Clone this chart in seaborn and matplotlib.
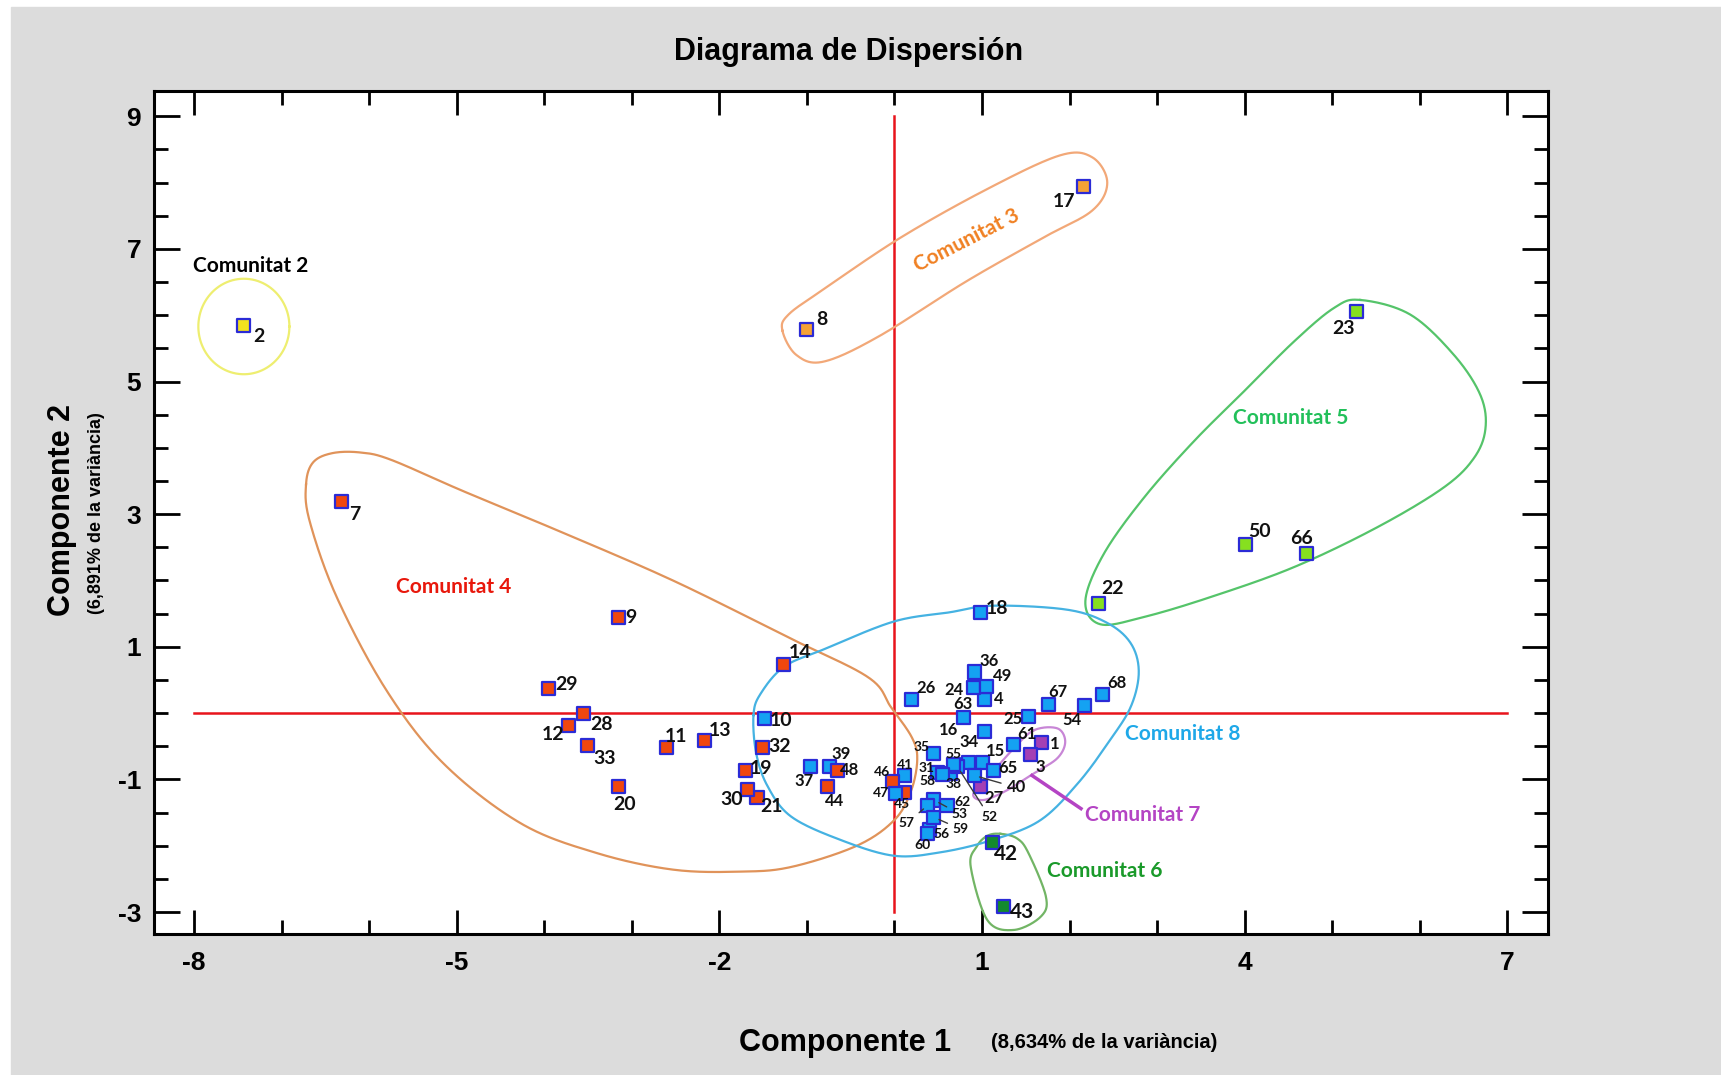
import numpy as np
import pandas as pd
import seaborn as sns
import matplotlib.pyplot as plt
from matplotlib.patches import Rectangle
from matplotlib.ticker import MultipleLocator

plt.rcParams['axes.unicode_minus'] = False

# point ids, PCA scores and community of each point
ids = [1, 2, 3, 4, 7, 8, 9, 10, 11, 12, 13, 14, 15, 16, 17, 18, 19, 20,
       21, 22, 23, 24, 25, 26, 27, 28, 29, 30, 31, 32, 33, 34, 35, 36, 37,
       38, 39, 40, 41, 42, 43, 44, 45, 46, 47, 48, 49, 50, 52, 53, 54, 55,
       56, 57, 58, 59, 60, 61, 62, 63, 65, 66, 67, 68]
comp1 = [1.68, -7.43, 1.55, 1.03, -6.32, -1.00, -3.15, -1.48, -2.60, -3.72,
         -2.17, -1.27, 1.00, 1.03, 2.16, 0.98, -1.70, -3.15, -1.57, 2.33,
         5.28, 0.90, 1.53, 0.20, 0.98, -3.55, -3.95, -1.68, 0.49, -1.51,
         -3.51, 0.85, 0.45, 0.91, -0.96, 0.64, -0.74, 0.91, 0.12, 1.12,
         1.24, -0.76, 0.12, -0.02, 0.01, -0.65, 1.05, 4.01, 0.72, 0.45,
         2.17, 0.67, 0.40, 0.38, 0.55, 0.45, 0.38, 1.36, 0.60, 0.79, 1.13,
         4.71, 1.76, 2.38]
comp2 = [-0.45, 5.85, -0.63, 0.20, 3.19, 5.78, 1.44, -0.08, -0.52, -0.19,
         -0.41, 0.73, -0.74, -0.28, 7.94, 1.52, -0.86, -1.10, -1.27, 1.65,
         6.06, 0.38, -0.05, 0.20, -1.11, -0.01, 0.37, -1.15, -0.89, -0.52,
         -0.49, -0.74, -0.61, 0.62, -0.80, -0.91, -0.80, -0.94, -0.94, -1.95,
         -2.91, -1.11, -1.19, -1.03, -1.21, -0.87, 0.40, 2.54, -0.81, -1.31,
         0.12, -0.77, -1.75, -1.39, -0.93, -1.57, -1.82, -0.48, -1.39, -0.07,
         -0.86, 2.41, 0.13, 0.28]
community = [7, 2, 7, 8, 4, 3, 4, 8, 4, 4, 4, 4, 8, 8, 3, 8, 4, 4,
             4, 5, 5, 8, 8, 8, 7, 4, 4, 4, 8, 4, 4, 8, 8, 8, 8,
             8, 8, 8, 8, 6, 6, 4, 4, 4, 8, 4, 8, 5, 8, 8, 8, 8,
             8, 8, 8, 8, 8, 8, 8, 8, 8, 5, 8, 8]

# outlines drawn round each community (data units)
outlines = {
    3: [(-1.28, 5.77), (-1.12, 5.40), (-0.81, 5.30), (-0.18, 5.68), (0.82, 6.51),
        (1.70, 7.17), (2.26, 7.58), (2.43, 8.00), (2.26, 8.38), (1.89, 8.41),
        (1.07, 7.91), (0.07, 7.17), (-0.81, 6.39), (-1.21, 6.01)],
    4: [(-6.72, 3.45), (-6.64, 3.78), (-6.42, 3.92), (-6.10, 3.93), (-5.75, 3.82),
        (-4.93, 3.35), (-3.84, 2.75), (-2.53, 2.00), (-1.21, 1.14), (-0.30, 0.54),
        (-0.04, 0.09), (0.20, -0.37), (0.26, -0.70), (0.19, -1.17), (0.00, -1.61),
        (-0.43, -2.00), (-1.18, -2.32), (-1.76, -2.39), (-2.53, -2.36),
        (-3.40, -2.11), (-4.27, -1.66), (-5.15, -0.76), (-5.80, 0.34),
        (-6.37, 1.75), (-6.68, 2.90)],
    5: [(5.32, 6.23), (5.89, 6.01), (6.39, 5.40), (6.69, 4.80), (6.75, 4.30),
        (6.62, 3.85), (6.27, 3.40), (5.51, 2.80), (4.56, 2.20), (3.61, 1.75),
        (2.85, 1.45), (2.35, 1.34), (2.18, 1.69), (2.39, 2.40), (2.85, 3.25),
        (3.42, 4.10), (3.99, 4.85), (4.56, 5.60), (5.02, 6.11)],
    6: [(1.21, -1.82), (1.40, -1.89), (1.53, -2.11), (1.73, -2.77), (1.67, -3.07),
        (1.36, -3.27), (1.06, -3.12), (0.87, -2.31), (0.94, -2.01), (1.06, -1.85)],
    7: [(1.59, -0.26), (1.86, -0.23), (1.95, -0.43), (1.86, -0.68), (1.59, -0.91),
        (1.29, -1.16), (1.02, -1.31), (0.90, -1.22), (1.08, -0.95), (1.35, -0.55)],
    8: [(-1.61, -0.03), (-1.53, 0.29), (-1.26, 0.70), (-0.81, 0.96), (-0.01, 1.38),
        (0.63, 1.52), (1.13, 1.62), (1.97, 1.56), (2.43, 1.36), (2.70, 1.05),
        (2.79, 0.62), (2.70, 0.10), (2.46, -0.41), (2.10, -1.05), (1.66, -1.62),
        (1.10, -1.92), (0.52, -2.10), (-0.01, -2.15), (-0.62, -1.91),
        (-1.18, -1.56), (-1.45, -1.10), (-1.58, -0.60)],
}
outline_colors = {2: '#eeee70', 3: '#f2a878', 4: '#e0935a', 5: '#55c46a',
                  6: '#72b565', 7: '#c886d6', 8: '#45b2e2'}

palette = {2: '#f2e21e', 3: '#f5a236', 4: '#f0470e', 5: '#86e01f',
           6: '#138a2c', 7: '#a43fb4', 8: '#14a2f2'}

comm_labels = {2: ('Comunitat 2', -7.35, 6.74, 'black', 0),
               3: ('Comunitat 3', 0.82, 7.12, '#f08022', 27),
               4: ('Comunitat 4', -5.04, 1.90, '#e8180c', 0),
               5: ('Comunitat 5', 4.52, 4.45, '#22c05a', 0),
               6: ('Comunitat 6', 2.40, -2.38, '#1a9a2a', 0),
               7: ('Comunitat 7', 2.84, -1.53, '#b444c4', 0),
               8: ('Comunitat 8', 3.29, -0.31, '#1ea8e8', 0)}

# label offsets from the point, in pixels (x right, y up)
offsets = {2: (15, -11), 7: (14, -13), 8: (15, 10), 17: (-20, -15), 23: (-13, -17),
           50: (14, 13), 66: (-5, 15), 22: (14, 15), 18: (17, 4), 9: (12, 0),
           29: (18, 4), 14: (17, 12), 28: (18, -11), 12: (-16, -9), 33: (17, -13),
           20: (6, -18), 11: (9, 11), 13: (16, 10), 10: (16, -2), 32: (17, 1),
           19: (15, 2), 30: (-16, -10), 21: (15, -9), 37: (-6, -15), 39: (11, 12),
           48: (12, 1), 44: (7, -14), 46: (-11, 9), 41: (0, 10), 47: (-14, 0),
           45: (-3, -12), 35: (-12, 7), 31: (-11, 4), 58: (-15, -6), 55: (0, 10),
           38: (3, -11), 52: (32, -50), 34: (0, 20), 16: (-36, 2), 15: (13, 11),
           65: (14, 2), 40: (42, -12), 27: (14, -11), 3: (10, -12), 1: (13, -1),
           61: (13, 11), 25: (-15, -3), 54: (-13, -15), 67: (9, 12), 68: (14, 12),
           26: (14, 12), 24: (-19, -2), 36: (15, 11), 49: (16, 11), 4: (14, 1),
           63: (-1, 14), 62: (15, 3), 53: (26, -14), 59: (27, -12), 56: (12, -5),
           57: (-21, -18), 60: (-5, -11), 42: (13, -12), 43: (19, -6)}
leaders = [52, 40, 53, 59, 57]
small_ids = [46, 41, 47, 45, 35, 31, 58, 55, 38, 52, 62, 53, 59, 56, 57, 60]
medium_ids = [37, 39, 48, 44, 36, 49, 24, 63, 4, 26, 67, 68, 54, 25, 61, 1, 3,
              16, 34, 15, 65, 40, 27]

df = pd.DataFrame({'id': ids, 'comp1': comp1, 'comp2': comp2,
                   'community': community})


def closed_curve(pts, n=24):
    # periodic Catmull-Rom spline through the outline points
    P = np.asarray(pts, dtype=float)
    m = len(P)
    t = np.linspace(0, 1, n, endpoint=False)[:, None]
    segs = []
    for i in range(m):
        p0, p1, p2, p3 = P[i - 1], P[i], P[(i + 1) % m], P[(i + 2) % m]
        segs.append(0.5 * (2 * p1 + (-p0 + p2) * t
                           + (2 * p0 - 5 * p1 + 4 * p2 - p3) * t ** 2
                           + (-p0 + 3 * p1 - 3 * p2 + p3) * t ** 3))
    c = np.vstack(segs)
    return np.vstack([c, c[:1]])


narrow = ['Liberation Sans Narrow', 'Liberation Sans']
lab_font = ['Lato', 'DejaVu Sans']

fig, ax = plt.subplots(figsize=(17.21, 10.75), dpi=100)
fig.patch.set_facecolor('white')
fig.patches.append(Rectangle((11 / 1721, 0), 1, 1 - 7 / 1075,
                             transform=fig.transFigure, color='#dcdcdc', zorder=-10))
fig.subplots_adjust(left=0.0893, right=0.8993, bottom=0.1312, top=0.9153)

# red reference axes
ax.plot([-8, 7], [0, 0], color='#e8141c', lw=1.8, zorder=2)
ax.plot([0, 0], [-3, 9], color='#e8141c', lw=1.8, zorder=2)

# community outlines
th = np.linspace(0, 2 * np.pi, 200)
ax.plot(-7.43 + 0.52 * np.cos(th), 5.83 + 0.72 * np.sin(th),
        color=outline_colors[2], lw=1.6, zorder=3)
for k, pts in outlines.items():
    c = closed_curve(pts)
    ax.plot(c[:, 0], c[:, 1], color=outline_colors[k], lw=1.6, zorder=3)

sns.scatterplot(data=df, x='comp1', y='comp2', hue='community', palette=palette,
                marker='s', s=88, edgecolor='#2b2bd6', linewidth=1.6,
                legend=False, zorder=5, ax=ax)

for i, x, y in zip(ids, comp1, comp2):
    dx, dy = offsets.get(i, (12, 0))
    fs = 10 if i in small_ids else (12 if i in medium_ids else 14)
    if i in (42, 43):
        fs = 15
    kw = {}
    if i in leaders:
        kw['arrowprops'] = dict(arrowstyle='-', color='#3a3a3a', lw=1,
                                shrinkA=2, shrinkB=4)
    ax.annotate(str(i), (x, y), xytext=(dx, dy), textcoords='offset pixels',
                ha='center', va='center', fontsize=fs, fontweight='bold',
                family=lab_font, color='#111111', zorder=6, **kw)

for k, (txt, x, y, col, rot) in comm_labels.items():
    ax.text(x, y, txt, color=col, fontsize=15, fontweight='bold',
            family=lab_font, ha='center', va='center', rotation=rot, zorder=6)
ax.plot([1.57, 2.13], [-0.94, -1.44], color='#b444c4', lw=2.5, zorder=4)

ax.set_xlim(-8.46, 7.46)
ax.set_ylim(-3.33, 9.38)
ax.set_xticks(range(-8, 8, 3))
ax.set_yticks(range(-3, 10, 2))
ax.xaxis.set_minor_locator(MultipleLocator(1))
ax.yaxis.set_minor_locator(MultipleLocator(0.5))
ax.tick_params(which='both', direction='in', top=True, right=True, width=2,
               color='black')
ax.tick_params(axis='x', which='major', length=17, pad=12)
ax.tick_params(axis='x', which='minor', length=10)
ax.tick_params(axis='y', which='major', length=19, pad=9)
ax.tick_params(axis='y', which='minor', length=10)
for lbl in ax.get_xticklabels() + ax.get_yticklabels():
    lbl.set_family(narrow)
    lbl.set_fontweight('bold')
    lbl.set_fontsize(19)
for sp in ax.spines.values():
    sp.set_linewidth(2.2)
ax.set_xlabel('')
ax.set_ylabel('')

fig.text(0.493, 0.952, 'Diagrama de Dispersión', ha='center', va='center',
         fontsize=22, fontweight='bold', family=narrow)
fig.text(0.491, 0.030, 'Componente 1', ha='center', va='center',
         fontsize=22, fontweight='bold', family=narrow)
fig.text(0.6416, 0.030, '(8,634% de la variància)', ha='center', va='center',
         fontsize=14.5, fontweight='bold', family=narrow)
fig.text(0.0358, 0.5256, 'Componente 2', ha='center', va='center', rotation=90,
         fontsize=22, fontweight='bold', family=narrow)
fig.text(0.0562, 0.523, '(6,891% de la variància)', ha='center', va='center',
         rotation=90, fontsize=13, fontweight='bold', family=narrow)

fig.savefig('out.png', dpi=100)
